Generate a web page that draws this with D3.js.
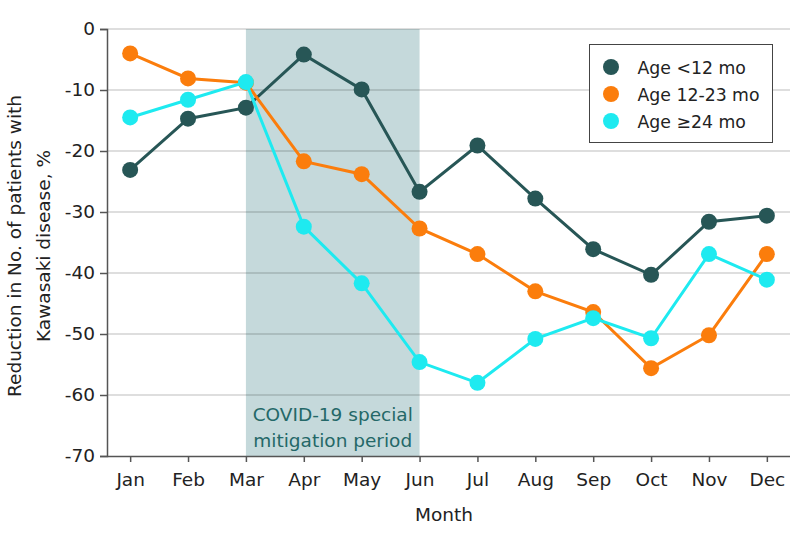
<!DOCTYPE html>
<html><head><meta charset="utf-8">
<script src="https://cdn.jsdelivr.net/npm/d3@7"></script>
<style>body{margin:0;background:#fff}svg{display:block}text{font-family:"DejaVu Sans",sans-serif}</style>
</head><body><svg id="c" width="794" height="542"></svg>
<script>
const months = ["Jan","Feb","Mar","Apr","May","Jun","Jul","Aug","Sep","Oct","Nov","Dec"];
const seriesNames = ["Age <12 mo","Age 12-23 mo","Age \u226524 mo"];
const ageUnder12 = [-23.1,-14.7,-12.9,-4.2,-9.9,-26.7,-19.1,-27.8,-36.1,-40.3,-31.6,-30.6];
const age12to23 = [-4.0,-8.1,-8.8,-21.7,-23.8,-32.7,-36.9,-43.0,-46.4,-55.6,-50.2,-36.9];
const age24plus = [-14.5,-11.6,-8.7,-32.4,-41.7,-54.6,-58.0,-50.8,-47.4,-50.7,-36.9,-41.1];
const yTicks = [0,-10,-20,-30,-40,-50,-60,-70];
const shadeStart = "Mar", shadeEnd = "Jun";
const colors = ["#275656","#fb7d0c","#1eeaf0"];
const seriesVals = [ageUnder12, age12to23, age24plus];

const svg = d3.select("#c");
const L = 107, R = 790, T = 29, B = 456;
const x = d3.scalePoint().domain(months).range([L, R]).padding(0.4);
const y = d3.scaleLinear().domain([-70, 0]).range([B, T]);

svg.append("rect").attr("x", x(shadeStart)).attr("y", T)
  .attr("width", x(shadeEnd) - x(shadeStart)).attr("height", B - T)
  .attr("fill", "#c5d9db");

svg.append("g").selectAll("line").data(yTicks.filter(d => d !== -70)).join("line")
  .attr("x1", L).attr("x2", R).attr("y1", d => y(d)).attr("y2", d => y(d))
  .attr("stroke", "#000").attr("stroke-opacity", 0.13).attr("stroke-width", 2);

const cx = (x(shadeStart) + x(shadeEnd)) / 2;
const st = svg.append("text").attr("text-anchor", "middle").attr("fill", "#246868").attr("font-size", 18.5);
st.append("tspan").attr("x", cx).attr("y", 420.5).text("COVID-19 special");
st.append("tspan").attr("x", cx).attr("y", 447).text("mitigation period");

const yAxis = svg.append("g").attr("transform", `translate(${L},0)`)
  .call(d3.axisLeft(y).tickValues(yTicks).tickSize(7).tickPadding(5).tickFormat(d => d === 0 ? "0" : "-" + Math.abs(d)));
const xAxis = svg.append("g").attr("transform", `translate(0,${B})`)
  .call(d3.axisBottom(x).tickSize(6).tickPadding(11));
xAxis.select(".domain").attr("d", `M${L},0.5H${R}`);
[yAxis, xAxis].forEach(g => {
  g.selectAll("text").attr("font-size", 18.5).attr("fill", "#222").style("font-family", '"DejaVu Sans",sans-serif');
  g.selectAll("line,path").attr("stroke", "#555").attr("stroke-width", 1.5);
});

svg.append("text").attr("x", 444).attr("y", 521).attr("text-anchor", "middle").attr("font-size", 18.5).attr("fill", "#222").text("Month");
const yt = svg.append("text").attr("transform", "translate(0,246) rotate(-90)").attr("text-anchor", "middle").attr("font-size", 18.5).attr("fill", "#222");
yt.append("tspan").attr("x", 0).attr("y", 21).text("Reduction in No. of patients with");
yt.append("tspan").attr("x", 0).attr("y", 49.5).text("Kawasaki disease, %");

const line = d3.line().x((d, i) => x(months[i])).y(d => y(d));
seriesVals.forEach((vals, s) => {
  const g = svg.append("g");
  g.append("path").attr("d", line(vals)).attr("fill", "none").attr("stroke", colors[s]).attr("stroke-width", 3);
  g.selectAll("circle").data(vals).join("circle")
    .attr("cx", (d, i) => x(months[i])).attr("cy", d => y(d)).attr("r", 8).attr("fill", colors[s]);
});

const lg = svg.append("g");
lg.append("rect").attr("x", 589.5).attr("y", 44.5).attr("width", 183).attr("height", 98)
  .attr("fill", "#fff").attr("stroke", "#444").attr("stroke-width", 1);
seriesNames.forEach((n, i) => {
  lg.append("circle").attr("cx", 611).attr("cy", 67 + i * 27).attr("r", 8).attr("fill", colors[i]);
  lg.append("text").attr("x", 637.5).attr("y", 73.5 + i * 27).attr("font-size", 17.3).attr("fill", "#222").text(n);
});
</script></body></html>
